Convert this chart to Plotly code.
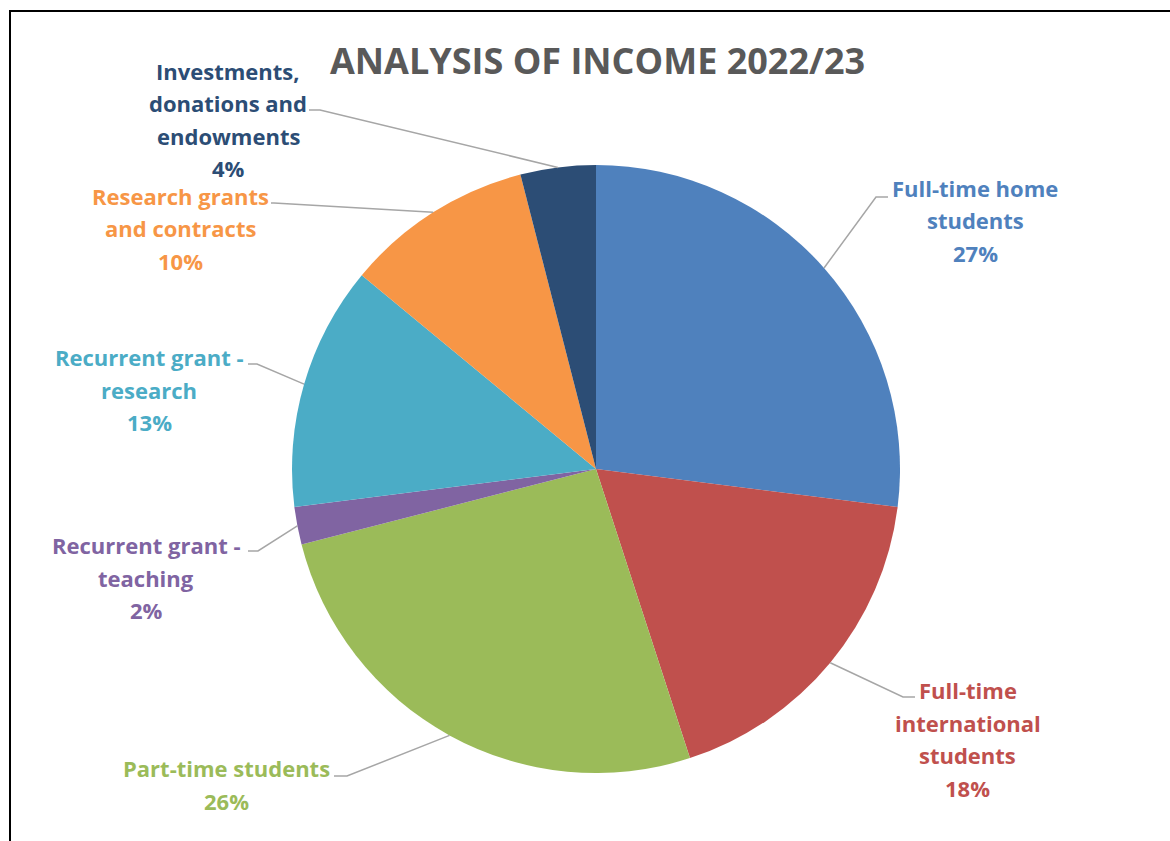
import math
import plotly.graph_objects as go

# Income sources, in drawing order (clockwise from 12 o'clock)
categories = [
    "Full-time home students",
    "Full-time international students",
    "Part-time students",
    "Recurrent grant - teaching",
    "Recurrent grant - research",
    "Research grants and contracts",
    "Investments, donations and endowments",
]
shares_pct = [27, 18, 26, 2, 13, 10, 4]

# Label text broken into lines as displayed beside the pie
label_lines = [
    ["Full-time home", "students"],
    ["Full-time", "international", "students"],
    ["Part-time students"],
    ["Recurrent grant -", "teaching"],
    ["Recurrent grant -", "research"],
    ["Research grants", "and contracts"],
    ["Investments,", "donations and", "endowments"],
]

slice_colors = ["#4F81BD", "#C0504D", "#9BBB59", "#8064A2", "#4BACC6", "#F79646", "#2C4D75"]

W, H = 1170, 841
CX, CY, R = 596, 469, 304          # pie centre / radius in pixels
FONT = "'Open Sans', Lato, sans-serif"
LINE_PITCH = 32.5

# label block centre (x, first-line y) and leader elbow / end points, in pixels
label_pos = [(975, 188), (968, 690), (226, 768), (146, 545), (149, 357), (180, 196), (228, 71)]
leader_pts = [
    ((876, 197), (888, 197)),
    ((903, 697), (915, 697)),
    ((347, 776), (334, 776)),
    ((258, 551), (248, 551)),
    ((257, 364), (248, 364)),
    ((274, 203), (271, 203)),
    ((320, 110), (309, 110)),
]


def px(x, y):
    return x / W, 1 - y / H


fig = go.Figure()

fig.add_trace(go.Pie(
    labels=categories,
    values=shares_pct,
    sort=False,
    direction="clockwise",
    rotation=0,
    marker=dict(colors=slice_colors, line=dict(width=0)),
    textinfo="none",
    hoverinfo="label+percent",
    showlegend=False,
    domain=dict(x=[(CX - R) / W, (CX + R) / W], y=[(H - CY - R) / H, (H - CY + R) / H]),
))

annotations = []
shapes = []

total = sum(shares_pct)
cum = 0.0
for i, v in enumerate(shares_pct):
    mid = (cum + v / 2) / total * 2 * math.pi
    cum += v
    sx = CX + R * math.sin(mid)
    sy = CY - R * math.cos(mid)
    (ex, ey), (tx, ty) = leader_pts[i]
    path_pts = [px(sx, sy), px(ex, ey), px(tx, ty)]
    path = "M " + " L ".join(f"{a:.5f},{b:.5f}" for a, b in path_pts)
    shapes.append(dict(type="path", path=path, xref="paper", yref="paper",
                       line=dict(color="#A6A6A6", width=1.5)))

    lx, ly = label_pos[i]
    lines = label_lines[i] + [f"{round(v / total * 100)}%"]
    for k, txt in enumerate(lines):
        ax, ay = px(lx, ly + k * LINE_PITCH)
        annotations.append(dict(
            x=ax, y=ay, xref="paper", yref="paper", text=f"<b>{txt}</b>", showarrow=False,
            xanchor="center", yanchor="middle",
            font=dict(family=FONT, size=22, color=slice_colors[i]),
        ))

# chart title
tx, ty = px(597, 60)
annotations.append(dict(
    x=tx, y=ty, xref="paper", yref="paper", text="<b>ANALYSIS OF INCOME 2022/23</b>",
    showarrow=False, xanchor="center", yanchor="middle",
    font=dict(family=FONT, size=36, color="#595959"),
))

# outer frame
x0, y0 = px(10, 11)
shapes.append(dict(type="rect", xref="paper", yref="paper",
                   x0=x0, y0=-0.02, x1=1.02, y1=y0,
                   line=dict(color="#000000", width=2)))

fig.update_layout(
    width=W, height=H,
    margin=dict(l=0, r=0, t=0, b=0),
    paper_bgcolor="white",
    plot_bgcolor="white",
    annotations=annotations,
    shapes=shapes,
    font=dict(family=FONT, size=22),
)

fig.write_html("out.html")
